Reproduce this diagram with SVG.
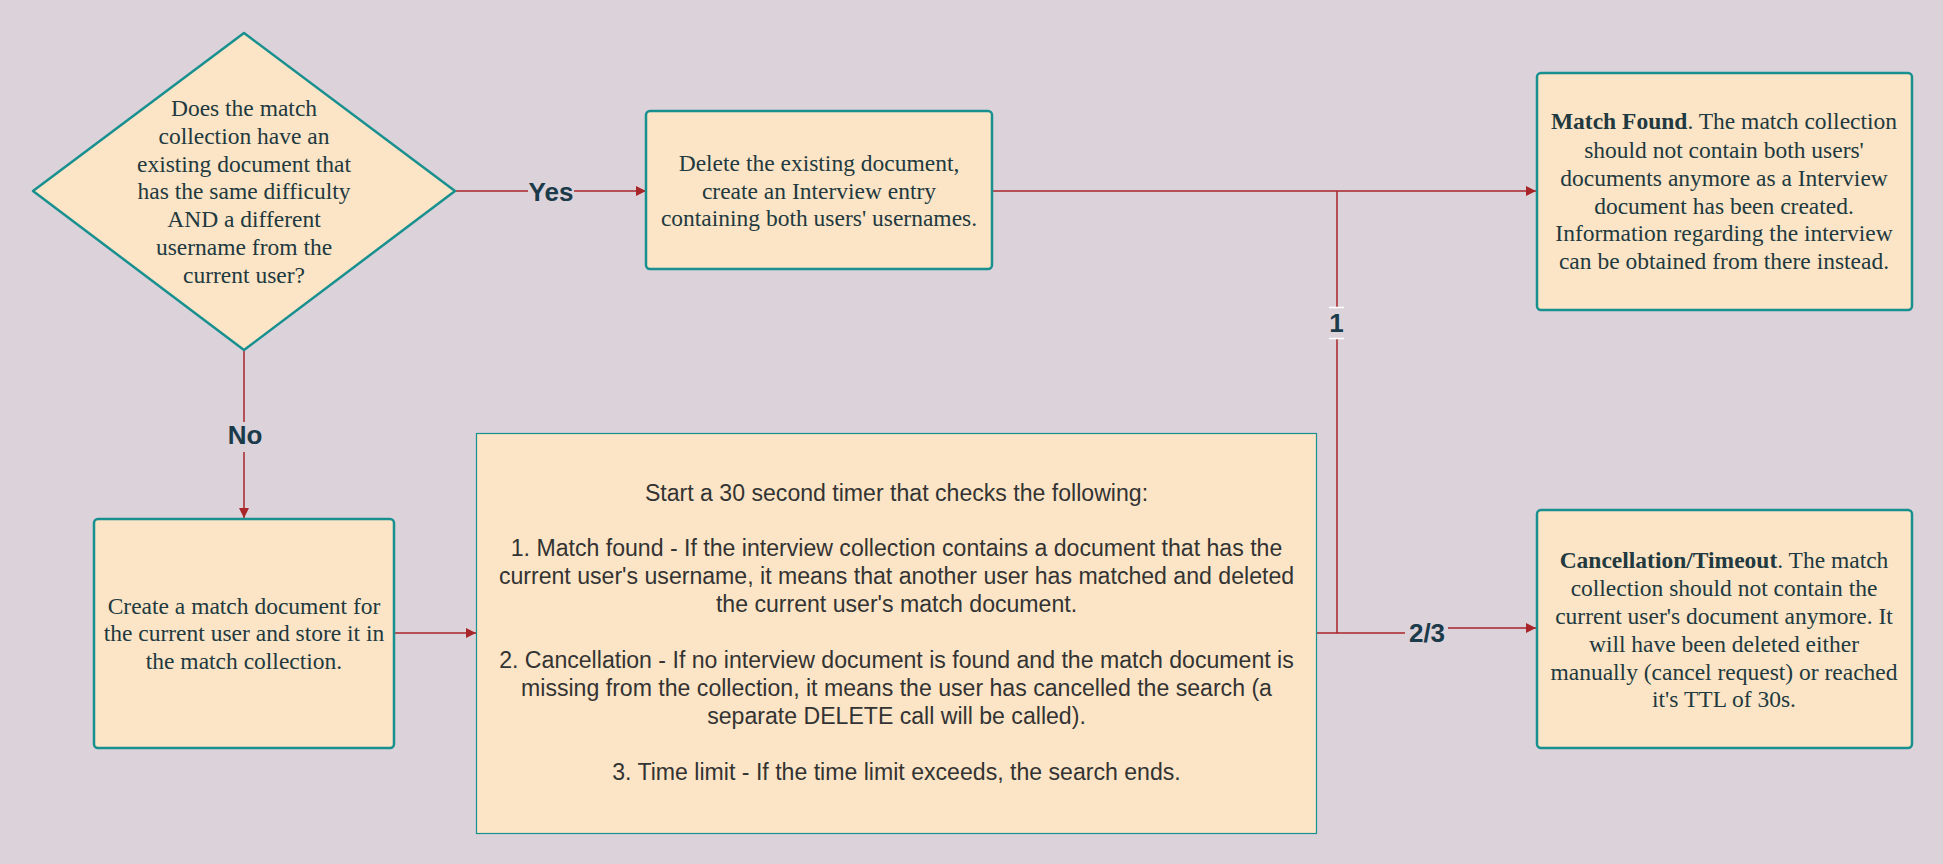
<svg xmlns="http://www.w3.org/2000/svg" width="1943" height="864" viewBox="0 0 1943 864">
<defs>
<marker id="arr" viewBox="0 0 10 10" refX="10" refY="5" markerWidth="10" markerHeight="10" markerUnits="userSpaceOnUse" orient="auto">
<path d="M0,0 L10,5 L0,10 Z" fill="#a8262a"/>
</marker>
<style>
.node{fill:#fce5c6;stroke:#17908f;stroke-width:2.5}
.mid{fill:#fce5c6;stroke:#17908f;stroke-width:1.2}
.t{font-family:"Liberation Serif","Times New Roman",serif;font-size:23.5px;fill:#21393f;text-anchor:middle}
.s{font-family:"Liberation Sans",Arial,sans-serif;font-size:23.1px;fill:#333333;text-anchor:middle}
.e{fill:none;stroke:#a8262a;stroke-width:1.5}
.lbl{font-family:"Liberation Sans",Arial,sans-serif;font-size:26px;font-weight:bold;fill:#1b3a4a;text-anchor:middle;dominant-baseline:central}
</style>
</defs>
<rect width="1943" height="864" fill="#dbd2da"/>
<g id="connectors">
<path class="e" d="M456,191 L528,191"/>
<path class="e" d="M574,191 L646,191" marker-end="url(#arr)"/>
<text class="lbl" x="551" y="192">Yes</text>
<path class="e" d="M244,351 L244,422"/>
<path class="e" d="M244,452 L244,518" marker-end="url(#arr)"/>
<text class="lbl" x="245" y="435">No</text>
<path class="e" d="M394,633 L476,633" marker-end="url(#arr)"/>
<path class="e" d="M992,191 L1536,191" marker-end="url(#arr)"/>
<path class="e" d="M1316,633 L1337,633 L1337,191"/>
<path class="e" d="M1337,633 L1405,633"/>
<path class="e" d="M1448,628 L1536,628" marker-end="url(#arr)"/>
<rect x="1329" y="307" width="15" height="32" fill="#dbd2da"/>
<path d="M1329,307.5 L1344,307.5 M1329,338.5 L1344,338.5" stroke="#ffffff" stroke-width="1.5"/>
<text class="lbl" x="1336.5" y="323">1</text>
<text class="lbl" x="1427" y="633">2/3</text>
</g>
<g id="decision">
<path class="node" d="M244,33 L455,191 L244,350 L33,191 Z" stroke-linejoin="round"/>
<text class="t" x="244"><tspan x="244" y="116">Does the match</tspan><tspan x="244" y="144">collection have an</tspan><tspan x="244" y="172">existing document that</tspan><tspan x="244" y="199">has the same difficulty</tspan><tspan x="244" y="227">AND a different</tspan><tspan x="244" y="255">username from the</tspan><tspan x="244" y="283">current user?</tspan></text>
</g>
<g id="delete">
<rect class="node" x="646" y="111" width="346" height="158" rx="4"/>
<text class="t"><tspan x="819" y="171">Delete the existing document,</tspan><tspan x="819" y="199">create an Interview entry</tspan><tspan x="819" y="226">containing both users' usernames.</tspan></text>
</g>
<g id="matchfound">
<rect class="node" x="1537" y="73" width="375" height="237" rx="4"/>
<text class="t"><tspan x="1724" y="129"><tspan font-weight="bold">Match Found</tspan>. The match collection</tspan><tspan x="1724" y="158">should not contain both users'</tspan><tspan x="1724" y="186">documents anymore as a Interview</tspan><tspan x="1724" y="214">document has been created.</tspan><tspan x="1724" y="241">Information regarding the interview</tspan><tspan x="1724" y="269">can be obtained from there instead.</tspan></text>
</g>
<g id="create">
<rect class="node" x="94" y="519" width="300" height="229" rx="4"/>
<text class="t"><tspan x="244" y="614">Create a match document for</tspan><tspan x="244" y="641">the current user and store it in</tspan><tspan x="244" y="669">the match collection.</tspan></text>
</g>
<g id="timer">
<rect class="mid" x="476.5" y="433.5" width="840" height="400"/>
<text class="s"><tspan x="896.5" y="501">Start a 30 second timer that checks the following:</tspan><tspan x="896.5" y="556">1. Match found - If the interview collection contains a document that has the</tspan><tspan x="896.5" y="584">current user's username, it means that another user has matched and deleted</tspan><tspan x="896.5" y="612">the current user's match document.</tspan><tspan x="896.5" y="668">2. Cancellation - If no interview document is found and the match document is</tspan><tspan x="896.5" y="696">missing from the collection, it means the user has cancelled the search (a</tspan><tspan x="896.5" y="724">separate DELETE call will be called).</tspan><tspan x="896.5" y="780">3. Time limit - If the time limit exceeds, the search ends.</tspan></text>
</g>
<g id="cancel">
<rect class="node" x="1537" y="510" width="375" height="238" rx="4"/>
<text class="t"><tspan x="1724" y="568"><tspan font-weight="bold">Cancellation/Timeout</tspan>. The match</tspan><tspan x="1724" y="596">collection should not contain the</tspan><tspan x="1724" y="624">current user's document anymore. It</tspan><tspan x="1724" y="652">will have been deleted either</tspan><tspan x="1724" y="680">manually (cancel request) or reached</tspan><tspan x="1724" y="707">it's TTL of 30s.</tspan></text>
</g>
</svg>
